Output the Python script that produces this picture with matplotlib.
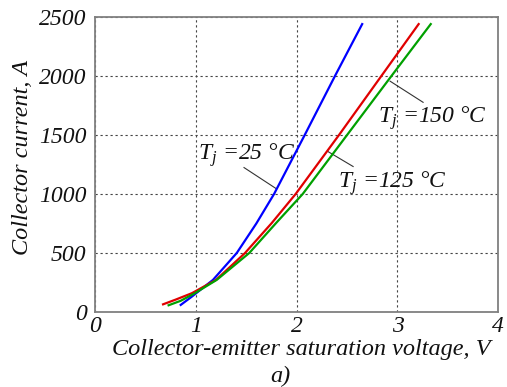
import matplotlib
matplotlib.use("Agg")
import matplotlib.pyplot as plt

plt.rcParams['font.family'] = ['Liberation Serif', 'DejaVu Serif']
plt.rcParams['font.style'] = 'italic'
plt.rcParams['mathtext.fontset'] = 'custom'
plt.rcParams['mathtext.it'] = 'Liberation Serif:italic'
plt.rcParams['mathtext.rm'] = 'Liberation Serif:italic'

# Data
v_25 = [0.85, 0.96, 1.17, 1.406, 1.60, 1.776, 2.08, 2.38, 2.65]
i_25 = [60, 130, 272, 500, 750, 1000, 1500, 2000, 2440]

v_125 = [0.675, 0.80, 0.96, 1.20, 1.488, 1.753, 1.99, 2.42, 2.84, 3.21]
i_125 = [65, 105, 159, 272, 500, 754, 1000, 1500, 2000, 2440]

v_150 = [0.73, 0.85, 0.99, 1.207, 1.53, 1.796, 2.06, 2.50, 2.94, 3.33]
i_150 = [57, 95, 159, 272, 500, 754, 1000, 1500, 2000, 2440]

x_ticks = [0, 1, 2, 3, 4]
y_ticks = [0, 500, 1000, 1500, 2000, 2500]

W, H = 507, 387
fig = plt.figure(figsize=(W / 100, H / 100), dpi=100)
ax = fig.add_axes([95 / W, 1 - 312 / H, (498.3 - 95) / W, (312 - 17) / H])

ax.plot(v_25, i_25, color='#0000ff', lw=1.6, zorder=3)
ax.plot(v_125, i_125, color='#e00000', lw=1.6, zorder=3)
ax.plot(v_150, i_150, color='#00a000', lw=1.6, zorder=3)

ax.set_xlim(0, 4)
ax.set_ylim(0, 2500)
ax.set_xticks(x_ticks)
ax.set_yticks(y_ticks)
ax.set_xticklabels([str(t) for t in x_ticks])
ax.set_yticklabels([str(t) for t in y_ticks])
ax.tick_params(length=0, labelsize=17, pad=6, labelcolor='#111111')
ax.tick_params(axis='x', pad=3)
ax.grid(True, color='#444444', lw=0.8, linestyle=(0, (2, 2.5)))
for s in ax.spines.values():
    s.set_color('#808080')
    s.set_linewidth(1.3)

fs = 17
tc = '#111111'
# Annotations
ax.text(1.02, 1292, r'$T_j$ =25 °C', fontsize=fs, ha='left', va='baseline', color=tc)
ax.plot([1.478, 1.796], [1224, 1046], color='#333333', lw=0.8, zorder=2)

ax.text(2.81, 1607, r'$T_j$ =150 °C', fontsize=fs, ha='left', va='baseline', color=tc)
ax.plot([2.927, 3.254], [1956, 1777], color='#333333', lw=0.8, zorder=2)

ax.text(2.41, 1054, r'$T_j$ =125 °C', fontsize=fs, ha='left', va='baseline', color=tc)
ax.plot([2.31, 2.56], [1360, 1233], color='#333333', lw=0.8, zorder=2)

fig.text(23 / W, 1 - 157.5 / H, 'Collector current, A', rotation=90,
         fontsize=17.5, ha='center', va='center', color=tc)
fig.text(301.5 / W, 1 - 350 / H, 'Collector-emitter saturation voltage, V',
         fontsize=17.5, ha='center', va='center', color=tc)
fig.text(280 / W, 1 - 376 / H, 'a)', fontsize=17.5, ha='center', va='center', color=tc)

fig.savefig('out.png', dpi=100)
